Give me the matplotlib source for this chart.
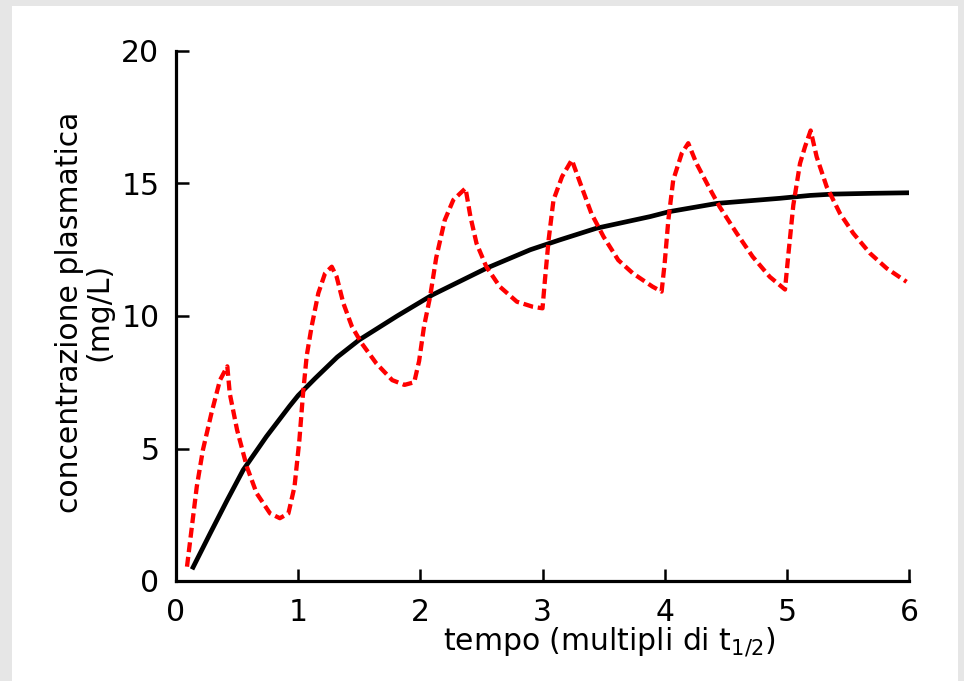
import matplotlib
matplotlib.use("Agg")
import matplotlib.pyplot as plt
from matplotlib.patches import Rectangle

# curva media (infusione continua)
t_media = [0.14, 0.28, 0.42, 0.55, 0.74, 0.93, 1.0, 1.14, 1.32, 1.5, 1.81, 2.1, 2.54,
           2.9, 3.14, 3.44, 3.88, 4.04, 4.43, 4.94, 5.19, 5.38, 5.7, 6.0]
c_media = [0.52, 1.8, 3.06, 4.19, 5.45, 6.6, 7.0, 7.65, 8.45, 9.1, 10.0, 10.8, 11.8,
           12.5, 12.87, 13.31, 13.75, 13.94, 14.25, 14.44, 14.55, 14.6, 14.63, 14.65]

# dosi ripetute
t_dosi = [0.09, 0.13, 0.17, 0.22, 0.29, 0.36, 0.42,
          0.44, 0.50, 0.58, 0.66, 0.77, 0.85, 0.92, 0.97, 1.01, 1.04, 1.07,
          1.11, 1.165, 1.22, 1.275,
          1.315, 1.37, 1.44, 1.52, 1.64, 1.77, 1.87, 1.95, 1.99, 2.03, 2.08, 2.13, 2.2, 2.27, 2.37,
          2.41, 2.46, 2.54, 2.65, 2.79, 2.92, 3.0, 3.02, 3.05, 3.09, 3.16, 3.24,
          3.31, 3.4, 3.5, 3.62, 3.74, 3.9, 3.975, 4.0, 4.03, 4.07, 4.14, 4.193,
          4.26, 4.36, 4.45, 4.59, 4.72, 4.86, 4.985, 5.012, 5.053, 5.108, 5.149, 5.195,
          5.244, 5.326, 5.435, 5.544, 5.68, 5.817, 5.98]
c_dosi = [0.54, 2.05, 3.56, 4.94, 6.33, 7.58, 8.1,
          7.08, 5.70, 4.31, 3.31, 2.55, 2.37, 2.55, 3.56, 5.32, 7.08, 8.5,
          9.6, 10.86, 11.61, 11.86,
          11.48, 10.48, 9.6, 8.97, 8.21, 7.58, 7.40, 7.5, 8.3, 9.6, 10.73, 12.2, 13.62, 14.38, 14.82,
          13.75, 12.74, 11.86, 11.11, 10.54, 10.35, 10.29, 11.36, 12.87, 14.38, 15.26, 15.89,
          15.0, 13.87, 12.99, 12.11, 11.61, 11.11, 10.92, 11.99, 13.62, 15.13, 16.14, 16.52,
          15.76, 14.88, 14.12, 13.12, 12.24, 11.48, 11.0, 12.3, 14.18, 15.76, 16.39, 17.0,
          16.01, 14.88, 13.87, 13.12, 12.37, 11.8, 11.29]

x_ticks = [0, 1, 2, 3, 4, 5, 6]
y_ticks = [0, 5, 10, 15, 20]

plt.rcParams["font.family"] = "DejaVu Sans"
fig = plt.figure(figsize=(9.64, 6.81), dpi=100, facecolor="#e6e6e6")
fig.patches.append(Rectangle((12 / 964, 0), 946 / 964, 675 / 681,
                             transform=fig.transFigure, facecolor="white",
                             edgecolor="none", zorder=-1))

ax = fig.add_axes([176 / 964, 1 - 581 / 681, 733 / 964, 530 / 681])
ax.set_facecolor("none")

ax.plot(t_dosi, c_dosi, color="#ff0000", lw=3.1, dashes=(2.3, 1.1), zorder=3)
ax.plot(t_media, c_media, color="black", lw=3.4, zorder=2)

ax.set_xlim(0, 6)
ax.set_ylim(0, 20)
ax.set_xticks(x_ticks)
ax.set_yticks(y_ticks)
ax.spines["top"].set_visible(False)
ax.spines["right"].set_visible(False)
for s in ["left", "bottom"]:
    ax.spines[s].set_linewidth(2.3)
ax.tick_params(direction="in", length=9, width=1.8, labelsize=21.5, pad=12)

fig.text(84 / 964, 1 - 312 / 681, "concentrazione plasmatica\n(mg/L)",
         rotation=90, ha="center", va="center", multialignment="center",
         fontsize=21.5, linespacing=1.0)
fig.text(609 / 964, 1 - 641 / 681, r"tempo (multipli di t$_{\mathregular{1/2}}$)",
         ha="center", va="center", fontsize=21.5)

fig.savefig("out.png", dpi=100, facecolor=fig.get_facecolor())
